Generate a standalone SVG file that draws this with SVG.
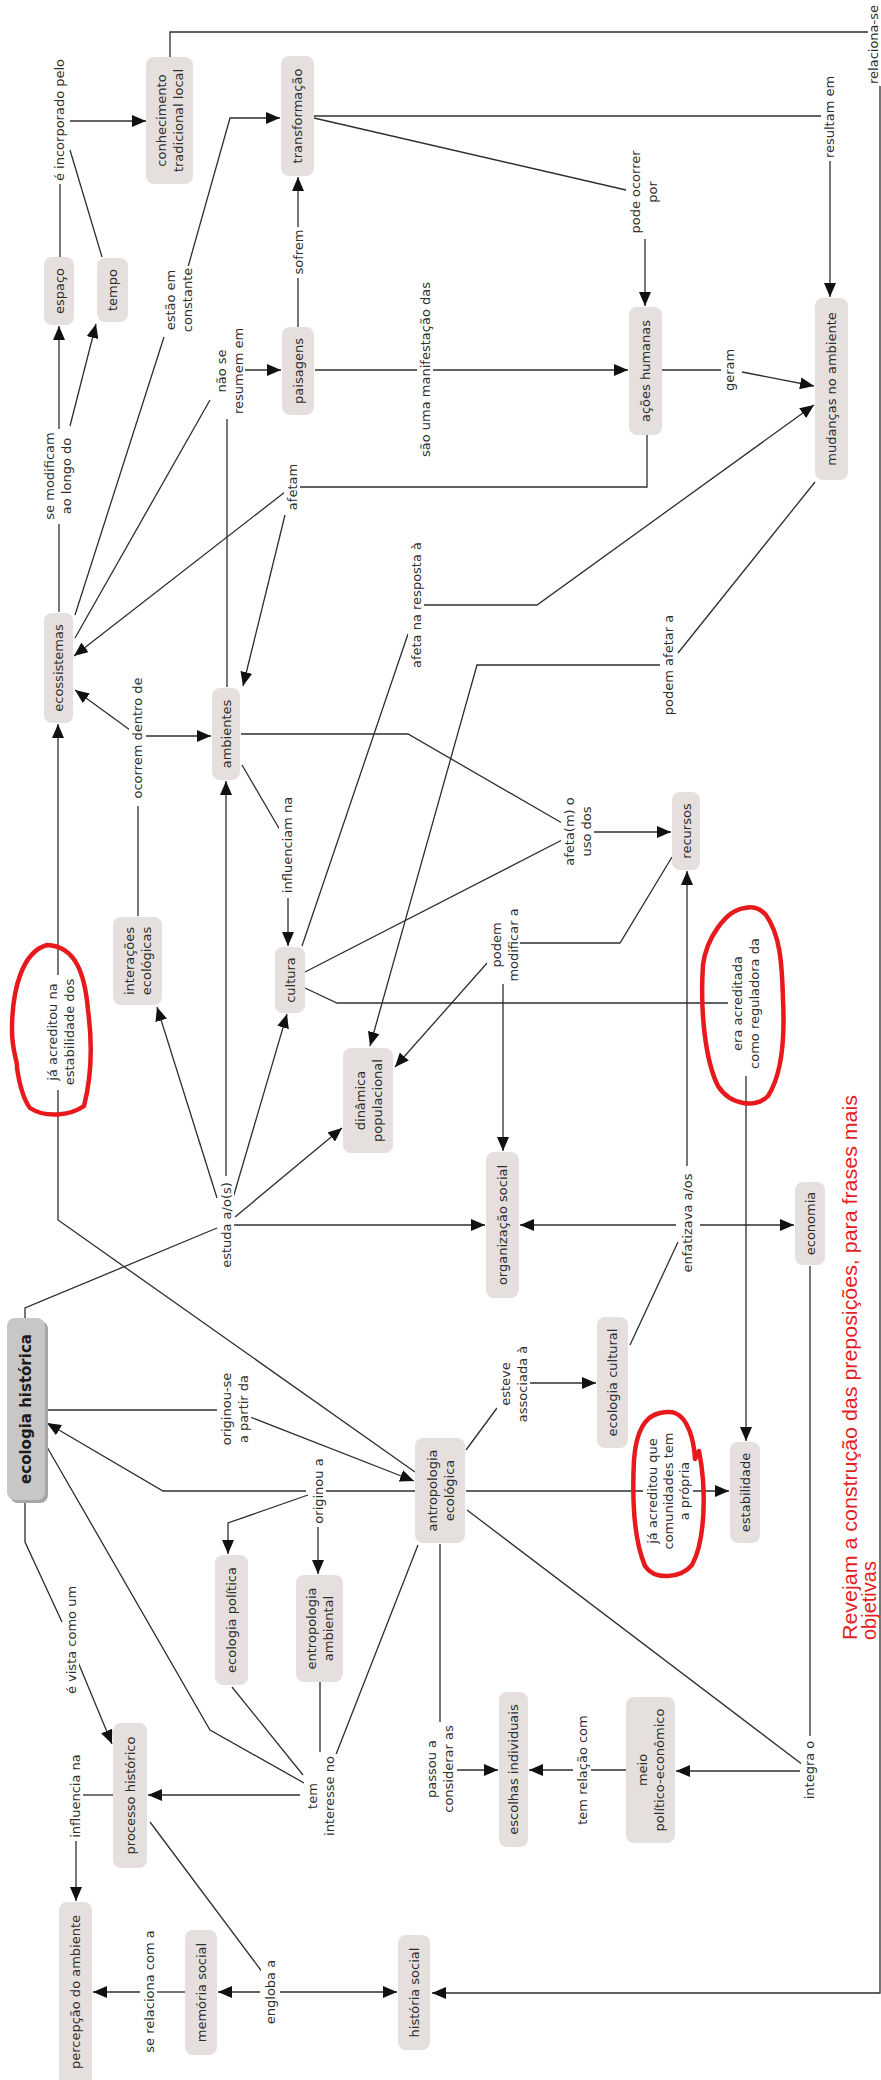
<svg xmlns="http://www.w3.org/2000/svg" width="881" height="2080" viewBox="0 0 881 2080">
<defs>
<style>
.n rect{fill:#e5dfde;}
.t{font-family:"DejaVu Sans","Verdana",sans-serif;font-size:13px;fill:#2e2e2e;text-anchor:middle;dominant-baseline:central;}
.lb{fill:#fff;}
.c path{fill:none;stroke:#2e2e2e;stroke-width:1.3;}
.a{marker-end:url(#ah);}
.red{fill:none;stroke:#e8191c;stroke-width:4.5;stroke-linejoin:round;stroke-linecap:round;}
.rt{font-family:"Liberation Sans",Arial,sans-serif;font-size:20px;fill:#e31e24;}
</style>
<marker id="ah" markerUnits="userSpaceOnUse" markerWidth="14" markerHeight="12" refX="14" refY="6" orient="auto">
<path d="M0,0 L14,6 L0,12 z" fill="#111"/>
</marker>
</defs>
<rect width="881" height="2080" fill="#fff"/>

<g id="connectors" class="c">
<path d="M60,257 V184"/>
<path d="M102,257 L70,150"/>
<path class="a" d="M70,121 H146"/>
<path d="M170,57 V32 H868"/>
<path class="a" d="M880,86 V1993 H432"/>
<path d="M314,116 H821"/>
<path class="a" d="M830,161 V297"/>
<path d="M314,118 L626,190"/>
<path class="a" d="M645,239 V306"/>
<path d="M75,615 L164,337"/>
<path class="a" d="M188,267 L230,118 H280"/>
<path d="M75,638 L210,400"/>
<path class="a" d="M244,370 H281"/>
<path d="M227,687 V419"/>
<path d="M298,327 V278"/>
<path class="a" d="M298,227 V177"/>
<path class="a" d="M315,370 H628"/>
<path d="M662,370 H721"/>
<path class="a" d="M742,372 L814,386"/>
<path d="M647,435 V487 H300"/>
<path class="a" d="M285,492 L74,656"/>
<path class="a" d="M285,515 L243,686"/>
<path d="M59,612 V524"/>
<path class="a" d="M59,429 V326"/>
<path class="a" d="M70,426 L96,324"/>
<path d="M302,946 L408,634"/>
<path class="a" d="M424,605 H537 L814,405"/>
<path d="M815,482 L678,653"/>
<path class="a" d="M660,665 H477 L370,1046"/>
<path d="M138,916 V806"/>
<path class="a" d="M145,736 H211"/>
<path class="a" d="M130,730 L75,690"/>
<path d="M242,765 L280,830"/>
<path class="a" d="M288,898 V946"/>
<path d="M241,734 H408 L562,823"/>
<path d="M305,972 L562,840"/>
<path class="a" d="M592,832 H671"/>
<path d="M672,857 L620,943 H518"/>
<path class="a" d="M488,962 L395,1067"/>
<path class="a" d="M503,984 V1151"/>
<path d="M305,988 L337,1003 H728"/>
<path class="a" d="M746,1076 V1441"/>
<path d="M630,1345 L678,1242"/>
<path class="a" d="M687,1166 V871"/>
<path class="a" d="M676,1225 H520"/>
<path class="a" d="M700,1225 H794"/>
<path d="M810,1266 V1736"/>
<path class="a" d="M800,1771 H676"/>
<path d="M467,1510 L803,1765"/>
<path d="M626,1770 H590"/>
<path class="a" d="M573,1770 H529"/>
<path d="M440,1544 V1722"/>
<path class="a" d="M457,1770 H498"/>
<path d="M466,1450 L497,1408"/>
<path class="a" d="M528,1383 H596"/>
<path class="a" d="M466,1491 H729"/>
<path d="M415,1472 L58,1220 V1090"/>
<path class="a" d="M58,975 V724"/>
<path d="M25,1318 V1308 L217,1228"/>
<path class="a" d="M217,1198 L157,1007"/>
<path class="a" d="M226,1176 V781"/>
<path class="a" d="M233,1198 L287,1014"/>
<path class="a" d="M235,1217 L342,1128"/>
<path class="a" d="M234,1225 H485"/>
<path d="M45,1410 H217"/>
<path class="a" d="M250,1417 L414,1481"/>
<path d="M415,1491 H326"/>
<path class="a" d="M306,1491 H163 L47,1423"/>
<path class="a" d="M308,1495 L228,1523 V1554"/>
<path class="a" d="M318,1527 V1574"/>
<path d="M25,1500 V1542 L62,1622"/>
<path class="a" d="M78,1662 L112,1744"/>
<path d="M47,1447 L210,1730 L304,1783"/>
<path d="M232,1687 L303,1775"/>
<path d="M320,1682 V1752"/>
<path d="M418,1545 L335,1757"/>
<path class="a" d="M300,1795 H148"/>
<path d="M113,1795 H83"/>
<path class="a" d="M76,1840 V1901"/>
<path d="M150,1822 L263,1973"/>
<path class="a" d="M260,1992 H218"/>
<path class="a" d="M280,1992 H397"/>
<path d="M185,1992 H157"/>
<path class="a" d="M140,1992 H93"/>
</g>

<!-- concept nodes -->
<g id="n-conhecimento" class="n"><rect x="146" y="57" width="47" height="127" rx="8"/><text class="t" transform="translate(169.5,120.5) rotate(-90)"><tspan x="0" y="-8.5">conhecimento</tspan><tspan x="0" y="8.5">tradicional local</tspan></text></g>
<g id="n-transformacao" class="n"><rect x="281" y="56" width="33" height="120" rx="8"/><text class="t" transform="translate(297.5,116) rotate(-90)">transformação</text></g>
<g id="n-espaco" class="n"><rect x="44" y="257" width="30" height="68" rx="8"/><text class="t" transform="translate(59,291) rotate(-90)">espaço</text></g>
<g id="n-tempo" class="n"><rect x="97" y="258" width="31" height="64" rx="8"/><text class="t" transform="translate(112.5,290) rotate(-90)">tempo</text></g>
<g id="n-paisagens" class="n"><rect x="282" y="327" width="32" height="88" rx="8"/><text class="t" transform="translate(298,371) rotate(-90)">paisagens</text></g>
<g id="n-acoes" class="n"><rect x="629" y="307" width="33" height="128" rx="8"/><text class="t" transform="translate(645.5,371) rotate(-90)">ações humanas</text></g>
<g id="n-mudancas" class="n"><rect x="815" y="298" width="33" height="182" rx="8"/><text class="t" transform="translate(831.5,389) rotate(-90)">mudanças no ambiente</text></g>
<g id="n-ecossistemas" class="n"><rect x="44" y="613" width="29" height="110" rx="8"/><text class="t" transform="translate(58.5,668) rotate(-90)">ecossistemas</text></g>
<g id="n-ambientes" class="n"><rect x="212" y="688" width="28" height="92" rx="8"/><text class="t" transform="translate(226,734) rotate(-90)">ambientes</text></g>
<g id="n-interacoes" class="n"><rect x="113" y="917" width="49" height="88" rx="8"/><text class="t" transform="translate(137.5,961) rotate(-90)"><tspan x="0" y="-8.5">interações</tspan><tspan x="0" y="8.5">ecológicas</tspan></text></g>
<g id="n-cultura" class="n"><rect x="275" y="947" width="30" height="66" rx="8"/><text class="t" transform="translate(290,980) rotate(-90)">cultura</text></g>
<g id="n-recursos" class="n"><rect x="672" y="792" width="28" height="78" rx="8"/><text class="t" transform="translate(686,831) rotate(-90)">recursos</text></g>
<g id="n-dinamica" class="n"><rect x="343" y="1048" width="50" height="105" rx="8"/><text class="t" transform="translate(368,1100.5) rotate(-90)"><tspan x="0" y="-8.5">dinâmica</tspan><tspan x="0" y="8.5">populacional</tspan></text></g>
<g id="n-organizacao" class="n"><rect x="486" y="1152" width="33" height="146" rx="8"/><text class="t" transform="translate(502.5,1225) rotate(-90)">organização social</text></g>
<g id="n-economia" class="n"><rect x="795" y="1182" width="30" height="83" rx="8"/><text class="t" transform="translate(810,1223.5) rotate(-90)">economia</text></g>
<g id="n-ecologia-historica"><rect x="10" y="1321" width="38" height="182" rx="8" fill="#a8a5a5"/><rect x="7" y="1318" width="38" height="182" rx="8" fill="#c9c6c6"/><text class="t" transform="translate(26,1409) rotate(-90)" style="font-weight:bold;font-size:15px;fill:#1c1c1c">ecologia histórica</text></g>
<g id="n-antropologia" class="n"><rect x="415" y="1438" width="50" height="105" rx="8"/><text class="t" transform="translate(440,1490.5) rotate(-90)"><tspan x="0" y="-8.5">antropologia</tspan><tspan x="0" y="8.5">ecológica</tspan></text></g>
<g id="n-ecologia-cultural" class="n"><rect x="597" y="1317" width="31" height="131" rx="8"/><text class="t" transform="translate(612.5,1382.5) rotate(-90)">ecologia cultural</text></g>
<g id="n-estabilidade" class="n"><rect x="730" y="1442" width="30" height="101" rx="8"/><text class="t" transform="translate(745,1492.5) rotate(-90)">estabilidade</text></g>
<g id="n-ecologia-politica" class="n"><rect x="215" y="1555" width="33" height="130" rx="8"/><text class="t" transform="translate(231.5,1620) rotate(-90)">ecologia política</text></g>
<g id="n-entropologia" class="n"><rect x="296" y="1575" width="47" height="107" rx="8"/><text class="t" transform="translate(319.5,1628.5) rotate(-90)"><tspan x="0" y="-8.5">entropologia</tspan><tspan x="0" y="8.5">ambiental</tspan></text></g>
<g id="n-processo" class="n"><rect x="113" y="1723" width="34" height="145" rx="8"/><text class="t" transform="translate(130,1795.5) rotate(-90)">processo histórico</text></g>
<g id="n-escolhas" class="n"><rect x="499" y="1692" width="29" height="155" rx="8"/><text class="t" transform="translate(513.5,1769.5) rotate(-90)">escolhas individuais</text></g>
<g id="n-meio" class="n"><rect x="626" y="1697" width="49" height="146" rx="8"/><text class="t" transform="translate(650.5,1770) rotate(-90)"><tspan x="0" y="-8.5">meio</tspan><tspan x="0" y="8.5">político-econômico</tspan></text></g>
<g id="n-percepcao" class="n"><rect x="59" y="1902" width="33" height="184" rx="8"/><text class="t" transform="translate(75.5,1992) rotate(-90)">percepção do ambiente</text></g>
<g id="n-memoria" class="n"><rect x="185" y="1930" width="32" height="125" rx="8"/><text class="t" transform="translate(201,1992.5) rotate(-90)">memória social</text></g>
<g id="n-historia-social" class="n"><rect x="398" y="1935" width="32" height="115" rx="8"/><text class="t" transform="translate(414,1992.5) rotate(-90)">história social</text></g>

<!-- linking phrases -->
<g id="l-incorporado"><rect class="lb" x="51" y="58" width="16" height="124"/><text class="t" transform="translate(59,120) rotate(-90)">é incorporado pelo</text></g>
<g id="l-estao"><rect class="lb" x="162" y="266" width="33" height="68"/><text class="t" transform="translate(178.5,300) rotate(-90)"><tspan x="0" y="-8.5">estão em</tspan><tspan x="0" y="8.5">constante</tspan></text></g>
<g id="l-sofrem"><rect class="lb" x="290" y="227" width="16" height="50"/><text class="t" transform="translate(298,252) rotate(-90)">sofrem</text></g>
<g id="l-relaciona"><text class="t" transform="translate(878,84) rotate(-90)" style="text-anchor:start;dominant-baseline:alphabetic">relaciona-se</text></g>
<g id="l-resultam"><rect class="lb" x="821" y="73" width="16" height="88"/><text class="t" transform="translate(829,117) rotate(-90)">resultam em</text></g>
<g id="l-pode-ocorrer"><rect class="lb" x="627" y="146" width="33" height="92"/><text class="t" transform="translate(643.5,192) rotate(-90)"><tspan x="0" y="-8.5">pode ocorrer</tspan><tspan x="0" y="8.5">por</tspan></text></g>
<g id="l-nao-se-resumem"><rect class="lb" x="212" y="325" width="33" height="93"/><text class="t" transform="translate(229,371) rotate(-90)"><tspan x="0" y="-8.5">não se</tspan><tspan x="0" y="8.5">resumem em</tspan></text></g>
<g id="l-se-modificam"><rect class="lb" x="43" y="429" width="33" height="94"/><text class="t" transform="translate(57.5,476) rotate(-90)"><tspan x="0" y="-8.5">se modificam</tspan><tspan x="0" y="8.5">ao longo do</tspan></text></g>
<g id="l-manifestacao"><rect class="lb" x="417" y="276" width="16" height="188"/><text class="t" transform="translate(425,369.5) rotate(-90)">são uma manifestação das</text></g>
<g id="l-geram"><rect class="lb" x="721" y="347" width="17" height="46"/><text class="t" transform="translate(729.5,370) rotate(-90)">geram</text></g>
<g id="l-afetam"><rect class="lb" x="284" y="462" width="16" height="51"/><text class="t" transform="translate(292,487) rotate(-90)">afetam</text></g>
<g id="l-afeta-resposta"><rect class="lb" x="408" y="537" width="16" height="137"/><text class="t" transform="translate(416,605) rotate(-90)">afeta na resposta à</text></g>
<g id="l-podem-afetar"><rect class="lb" x="660" y="611" width="17" height="108"/><text class="t" transform="translate(668.5,665) rotate(-90)">podem afetar a</text></g>
<g id="l-ocorrem"><rect class="lb" x="129" y="672" width="17" height="132"/><text class="t" transform="translate(137.5,738) rotate(-90)">ocorrem dentro de</text></g>
<g id="l-influenciam"><rect class="lb" x="279" y="794" width="16" height="102"/><text class="t" transform="translate(287,845) rotate(-90)">influenciam na</text></g>
<g id="l-afetam-uso"><rect class="lb" x="561" y="794" width="33" height="76"/><text class="t" transform="translate(577.5,831.5) rotate(-90)"><tspan x="0" y="-8.5">afeta(m) o</tspan><tspan x="0" y="8.5">uso dos</tspan></text></g>
<g id="l-podem-modificar"><rect class="lb" x="487" y="906" width="33" height="78"/><text class="t" transform="translate(504,945) rotate(-90)"><tspan x="0" y="-8.5">podem</tspan><tspan x="0" y="8.5">modificar a</tspan></text></g>
<g id="l-era-acreditada"><rect class="lb" x="729" y="934" width="33" height="140"/><text class="t" transform="translate(745,1003.5) rotate(-90)"><tspan x="0" y="-8.5">era acreditada</tspan><tspan x="0" y="8.5">como reguladora da</tspan></text></g>
<g id="l-ja-acreditou-na"><rect class="lb" x="43" y="975" width="33" height="114"/><text class="t" transform="translate(60,1032) rotate(-90)"><tspan x="0" y="-8.5">já acreditou na</tspan><tspan x="0" y="8.5">estabilidade dos</tspan></text></g>
<g id="l-estuda"><rect class="lb" x="218" y="1177" width="16" height="96"/><text class="t" transform="translate(226,1225) rotate(-90)">estuda a/o(s)</text></g>
<g id="l-enfatizava"><rect class="lb" x="679" y="1167" width="17" height="112"/><text class="t" transform="translate(687.5,1223) rotate(-90)">enfatizava a/os</text></g>
<g id="l-originou-se"><rect class="lb" x="217" y="1368" width="34" height="82"/><text class="t" transform="translate(234,1409) rotate(-90)"><tspan x="0" y="-8.5">originou-se</tspan><tspan x="0" y="8.5">a partir da</tspan></text></g>
<g id="l-originou"><rect class="lb" x="310" y="1456" width="16" height="70"/><text class="t" transform="translate(318,1491) rotate(-90)">originou a</text></g>
<g id="l-esteve"><rect class="lb" x="497" y="1343" width="33" height="82"/><text class="t" transform="translate(513.5,1384) rotate(-90)"><tspan x="0" y="-8.5">esteve</tspan><tspan x="0" y="8.5">associada à</tspan></text></g>
<g id="l-ja-acreditou-que"><rect class="lb" x="643" y="1428" width="50" height="126"/><text class="t" transform="translate(667.5,1491) rotate(-90)"><tspan x="0" y="-16">já acreditou que</tspan><tspan x="0" y="0">comunidades tem</tspan><tspan x="0" y="16">a própria</tspan></text></g>
<g id="l-vista"><rect class="lb" x="63" y="1581" width="16" height="117"/><text class="t" transform="translate(71,1640) rotate(-90)">é vista como um</text></g>
<g id="l-tem-interesse"><rect class="lb" x="304" y="1754" width="33" height="85"/><text class="t" transform="translate(320,1796) rotate(-90)"><tspan x="0" y="-8.5">tem</tspan><tspan x="0" y="8.5">interesse no</tspan></text></g>
<g id="l-passou"><rect class="lb" x="422" y="1722" width="34" height="94"/><text class="t" transform="translate(439,1769) rotate(-90)"><tspan x="0" y="-8.5">passou a</tspan><tspan x="0" y="8.5">considerar as</tspan></text></g>
<g id="l-tem-relacao"><rect class="lb" x="574" y="1712" width="17" height="116"/><text class="t" transform="translate(582.5,1770) rotate(-90)">tem relação com</text></g>
<g id="l-integra"><rect class="lb" x="801" y="1737" width="17" height="67"/><text class="t" transform="translate(809.5,1770) rotate(-90)">integra o</text></g>
<g id="l-influencia"><rect class="lb" x="67" y="1751" width="16" height="90"/><text class="t" transform="translate(75,1796) rotate(-90)">influencia na</text></g>
<g id="l-se-relaciona"><rect class="lb" x="141" y="1924" width="16" height="135"/><text class="t" transform="translate(149,1991.5) rotate(-90)">se relaciona com a</text></g>
<g id="l-engloba"><rect class="lb" x="261" y="1957" width="18" height="71"/><text class="t" transform="translate(270,1992) rotate(-90)">engloba a</text></g>

<!-- red annotations -->
<g id="annotations">
<path class="red" d="M47,945 C22,952 12,990 12,1030 C12,1052 18,1062 17,1068 C20,1088 24,1100 30,1108 C45,1118 70,1116 84,1106 C92,1075 92,1040 88,1010 C85,975 76,946 47,945 Z"/>
<path class="red" d="M745,908 C725,910 706,940 703,965 C700,1010 705,1060 718,1086 C731,1106 756,1108 768,1096 C781,1076 785,1040 783,1000 C782,962 780,935 766,915 C760,908 752,906 745,908 Z"/>
<path class="red" d="M660,1413 C645,1416 636,1432 634,1460 C632,1500 634,1540 645,1566 C655,1581 681,1578 692,1565 C703,1545 705,1510 703,1480 C702,1466 700,1456 699,1451 L695,1459 C694,1440 688,1418 675,1413 C670,1411 665,1412 660,1413 Z"/>
<text class="rt" transform="translate(857,1640) rotate(-90)" textLength="545" lengthAdjust="spacingAndGlyphs">Revejam a construção das preposições, para frases mais</text>
<text class="rt" transform="translate(876,1640) rotate(-90)">objetivas</text>
</g>
</svg>
